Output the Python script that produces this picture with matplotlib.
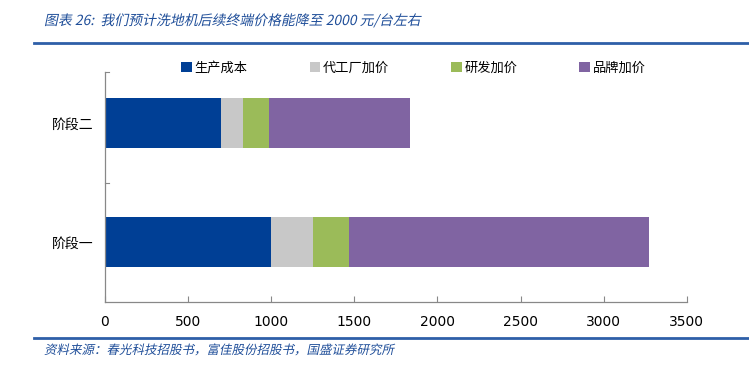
import matplotlib.pyplot as plt
import matplotlib.lines as mlines
import matplotlib.transforms as mtrans
from matplotlib.textpath import TextPath
from matplotlib.patches import PathPatch
from matplotlib.font_manager import FontProperties
import numpy as np

plt.rcParams['font.family'] = ['Noto Sans CJK SC', 'DejaVu Sans']

# data
stages = ['阶段一', '阶段二']
series_names = ['生产成本', '代工厂加价', '研发加价', '品牌加价']
production_cost = [1000, 700]
factory_markup = [250, 130]
rnd_markup = [220, 157]
brand_markup = [1800, 850]
x_ticks = [0, 500, 1000, 1500, 2000, 2500, 3000, 3500]

colors = ['#003F95', '#C8C8C8', '#9BBB59', '#8064A2']
title_blue = '#1F4E99'


def italic_text(fig, x_px, y_px, s, size_pt, color):
    """ fake italic for CJK text: skew the glyph outlines """
    tp = TextPath((0, 0), s, size=size_pt, prop=FontProperties(family='Noto Sans CJK SC'))
    tr = (mtrans.Affine2D().skew_deg(12, 0).scale(1 / 72.0)
          .translate(x_px / fig.dpi, (fig.bbox.height - y_px) / fig.dpi))
    patch = PathPatch(tp, transform=tr + fig.dpi_scale_trans, color=color, lw=0)
    fig.add_artist(patch)


fig = plt.figure(figsize=(7.49, 3.68), dpi=100)
ax = fig.add_axes([0.140, 0.179, 0.777, 0.625])

# stacked horizontal bars
ypos = np.arange(len(stages))
left = np.zeros(len(stages))
for vals, name, c in zip([production_cost, factory_markup, rnd_markup, brand_markup],
                         series_names, colors):
    ax.barh(ypos, vals, left=left, height=0.42, color=c, label=name)
    left += np.array(vals)

ax.set_xlim(0, 3500)
ax.set_ylim(-0.504, 1.43)
ax.set_xticks(x_ticks)
ax.set_xticklabels([str(t) for t in x_ticks], fontsize=10, family=['DejaVu Sans'])
ax.set_yticks(ypos)
ax.set_yticklabels(stages, fontsize=10)
ax.tick_params(axis='y', length=0, pad=8)
ax.tick_params(axis='x', direction='in', length=4, color='#888888', pad=9)

# category boundary ticks on the y axis
for yb in [0.5, 1.43]:
    ax.plot([0, 25], [yb, yb], color='#888888', lw=0.8, clip_on=False)

for s in ['top', 'right']:
    ax.spines[s].set_visible(False)
for s in ['left', 'bottom']:
    ax.spines[s].set_color('#888888')
    ax.spines[s].set_linewidth(0.9)

# legend
handles, labels = ax.get_legend_handles_labels()
fig.legend(handles, labels, loc='center', bbox_to_anchor=(0.552, 0.815), ncol=4,
           frameon=False, fontsize=9.5, handlelength=0.8, handleheight=0.8,
           handletextpad=0.2, columnspacing=4.7)

# title, rules and source
italic_text(fig, 44, 25, '图表 26:  我们预计洗地机后续终端价格能降至 2000 元/台左右', 10, title_blue)
fig.add_artist(mlines.Line2D([0.045, 1.0], [0.883, 0.883], color='#2E5FA8', lw=2))
fig.add_artist(mlines.Line2D([0.045, 1.0], [0.082, 0.082], color='#2E5FA8', lw=2))
italic_text(fig, 44, 354, '资料来源：春光科技招股书，富佳股份招股书，国盛证券研究所', 9, title_blue)

fig.savefig('out.png', dpi=100)
